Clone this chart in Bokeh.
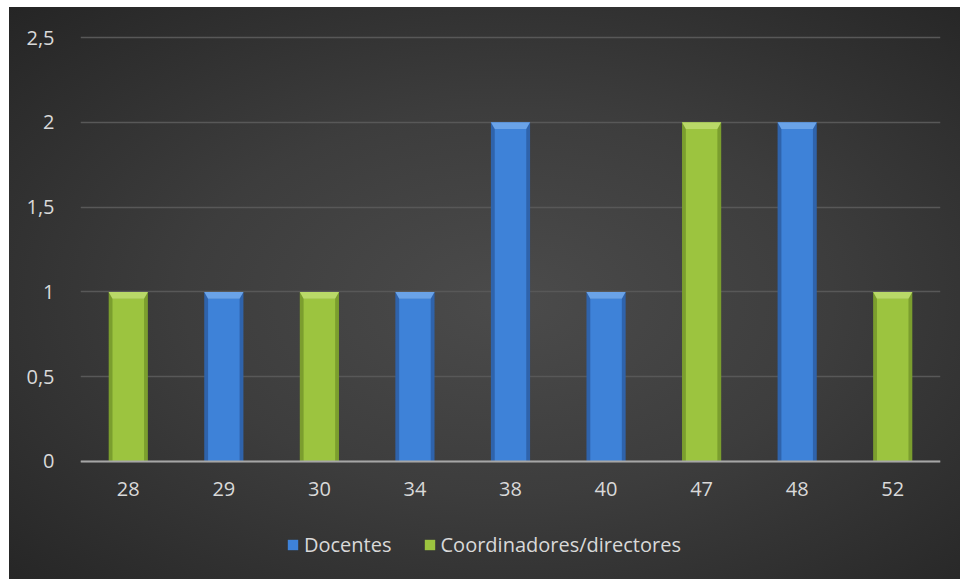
from bokeh.plotting import figure
from bokeh.models import FixedTicker, Legend, LegendItem, ColumnDataSource, LinearAxis
from bokeh.embed import file_html
from bokeh.resources import INLINE

# ---- data ----
ages = ["28", "29", "30", "34", "38", "40", "47", "48", "52"]
docentes = [0, 1, 0, 1, 2, 1, 0, 2, 0]
coordinadores = [1, 0, 1, 0, 0, 0, 2, 0, 1]
series_names = ["Docentes", "Coordinadores/directores"]
y_ticks = [0, 0.5, 1, 1.5, 2, 2.5]
y_labels = ["0", "0,5", "1", "1,5", "2", "2,5"]

FONT = "Open Sans"
TXT = "#d9d9d9"

# frame spans below the value axis so the legend can sit inside it
p = figure(width=960, height=579, output_backend="svg", toolbar_location=None,
           x_range=(-0.5, len(ages) - 0.5), y_range=(-0.6958, 2.5413),
           x_axis_location=None,
           min_border_left=80, min_border_right=20, min_border_top=30,
           min_border_bottom=0)
p.styles = {"background": ("linear-gradient(#ffffff, #ffffff) 0 0 / 100% 7px no-repeat, "
                           "linear-gradient(#ffffff, #ffffff) 0 0 / 9px 100% no-repeat, "
                           "radial-gradient(ellipse farthest-corner at 53% 52%, "
                           "#4b4b4b 0%, #3d3d3d 45%, #242424 100%)")}
p.background_fill_alpha = 0
p.border_fill_alpha = 0
p.outline_line_color = None

W = 0.41
B = 0.04
D = 0.04


def bars(values, edge, main, cap):
    xs_i = [i for i, v in enumerate(values) if v > 0]
    vs = [values[i] for i in xs_i]
    src = ColumnDataSource(dict(x=xs_i, top=vs, top_in=[v - D for v in vs]))
    p.vbar(x="x", top="top", bottom=0, width=W, source=src,
           fill_color=edge, line_color=None)
    r = p.vbar(x="x", top="top_in", bottom=0, width=W - 2 * B, source=src,
               fill_color=main, line_color=None)
    caps_x = [[x - W / 2, x + W / 2, x + W / 2 - B, x - W / 2 + B] for x in xs_i]
    caps_y = [[v, v, v - D, v - D] for v in vs]
    p.patches(caps_x, caps_y, fill_color=cap, line_color=None)
    return r


r_doc = bars(docentes, "#2f63ab", "#3e82d8", "#6aa3e8")
r_coo = bars(coordinadores, "#7b9e2e", "#9cc43f", "#b9d968")

# category axis pinned at value 0
xaxis = LinearAxis(fixed_location=0,
                   ticker=FixedTicker(ticks=list(range(len(ages)))),
                   major_label_overrides={i: a for i, a in enumerate(ages)})
p.add_layout(xaxis, "below")

p.yaxis.ticker = FixedTicker(ticks=y_ticks)
p.yaxis.major_label_overrides = {t: l for t, l in zip(y_ticks, y_labels)}
for ax in (xaxis, p.yaxis[0]):
    ax.major_tick_line_color = None
    ax.minor_tick_line_color = None
    ax.major_label_text_color = TXT
    ax.major_label_text_font = FONT
    ax.major_label_text_font_size = "20px"
xaxis.axis_line_color = "#a6a6a6"
xaxis.axis_line_width = 2
xaxis.major_label_standoff = 15
p.yaxis.axis_line_color = None
p.yaxis.major_label_standoff = 20

p.xgrid.grid_line_color = None
p.ygrid.ticker = FixedTicker(ticks=y_ticks)
p.ygrid.grid_line_color = "#585858"
p.ygrid.grid_line_width = 1.5

legend = Legend(items=[LegendItem(label=series_names[0], renderers=[r_doc]),
                       LegendItem(label=series_names[1], renderers=[r_coo])],
                orientation="horizontal", location=(206, 21),
                label_text_color=TXT, label_text_font=FONT,
                label_text_font_size="20px", glyph_width=13, glyph_height=13,
                label_standoff=5, spacing=31, padding=0, margin=0,
                border_line_color=None, background_fill_alpha=0)
p.add_layout(legend, "center")

open("out.html", "w").write(file_html(p, INLINE))
